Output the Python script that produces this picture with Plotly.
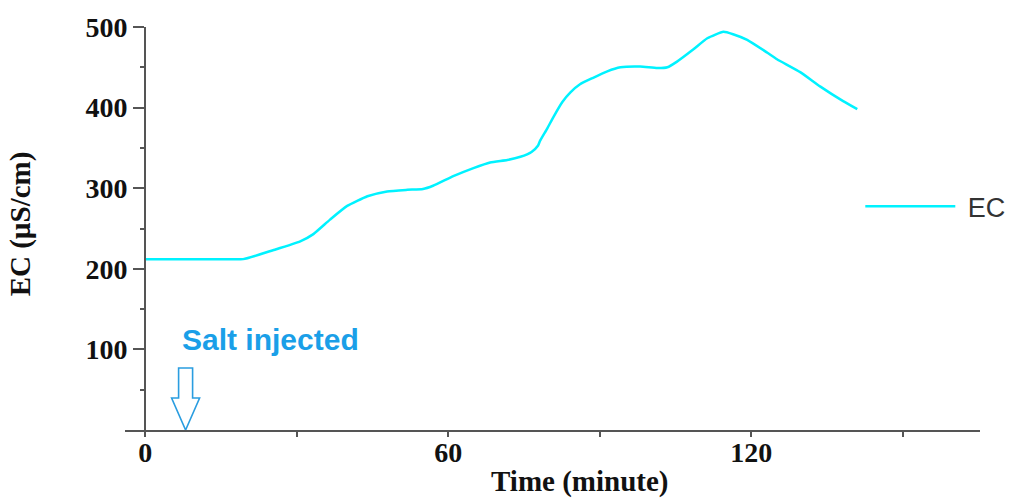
import plotly.graph_objects as go

# ---- data ----
time_min = [0, 5, 10, 15, 19.4, 25.3, 30.7, 33.3, 36.6, 40, 44, 47.9, 51.9, 55, 57, 61, 65,
            68.3, 71.7, 74.3, 76.5, 77.8, 78.2, 79.6, 80.8, 82.6, 84.2, 86.1, 88.7, 91.5,
            94.1, 98, 101.4, 103.4, 105.3, 108.5, 111.3, 114.5, 116.4, 119.2, 123.2, 125.1,
            129.7, 133.7, 138.2, 141]
ec_values = [212, 212, 212, 212, 212, 223, 234, 243, 261, 278, 290, 296, 298, 299, 303, 315,
             325, 332, 335, 339, 345, 353, 359, 374, 388, 407, 419, 429, 437, 445, 450, 451,
             449, 450, 457, 472, 486, 494, 491, 484, 468, 460, 444, 426, 408, 398]
x_tick_vals = [0, 30, 60, 90, 120, 150]
x_tick_text = ["0", "", "60", "", "120", ""]
y_tick_vals = [100, 200, 300, 400, 500]
y_minor_vals = [50, 150, 250, 350, 450]
injection_time = 8
injection_label = "Salt injected"

AXIS = "#555555"
SERIF = "Liberation Serif"

fig = go.Figure()
fig.add_trace(go.Scatter(
    x=time_min, y=ec_values, mode="lines", name=" EC",
    line=dict(color="#00f2ff", width=2.5, shape="spline", smoothing=0.5),
))

fig.update_layout(
    width=1026, height=500,
    margin=dict(l=125, r=46, t=22, b=70),
    paper_bgcolor="white", plot_bgcolor="white",
    showlegend=True,
    legend=dict(x=0.86, y=0.554, xanchor="left", yanchor="middle",
                bgcolor="rgba(0,0,0,0)", itemwidth=90,
                font=dict(family="Liberation Sans", size=27, color="#333333")),
    xaxis=dict(range=[-4, 165.3], showgrid=False, zeroline=False,
               showline=True, linecolor=AXIS, linewidth=2,
               ticks="outside", ticklen=5, tickwidth=2, tickcolor=AXIS,
               tickvals=x_tick_vals, ticktext=x_tick_text, ticklabelstandoff=-9,
               tickfont=dict(family=SERIF, size=28, color="#111111", weight="bold")),
    yaxis=dict(range=[0, 500], showgrid=False, zeroline=False,
               anchor="free", position=20 / 855,
               showline=True, linecolor=AXIS, linewidth=2,
               ticks="outside", ticklen=11, tickwidth=2, tickcolor=AXIS,
               tickvals=y_tick_vals,
               minor=dict(tickvals=y_minor_vals, ticks="outside", ticklen=4,
                          tickwidth=2, tickcolor=AXIS),
               tickfont=dict(family=SERIF, size=28, color="#111111", weight="bold")),
)

# axis titles
fig.add_annotation(text="Time (minute)", xref="paper", yref="paper",
                   x=0.531, y=-0.128, xanchor="center", yanchor="middle", showarrow=False,
                   font=dict(family=SERIF, size=29, color="#111111", weight="bold"))
fig.add_annotation(text="EC (µS/cm)", xref="paper", yref="paper", textangle=-90,
                   x=-0.122, y=0.512, xanchor="center", yanchor="middle", showarrow=False,
                   font=dict(family=SERIF, size=29, color="#111111", weight="bold"))

# injection marker
fig.add_annotation(text=injection_label, xref="x", yref="y",
                   x=injection_time - 1.2, y=112.7, xanchor="left", yanchor="middle",
                   showarrow=False,
                   font=dict(family="Liberation Sans", size=30, color="#1a9fe8", weight="bold"))
fig.add_shape(type="path", xref="x", yref="y",
              xsizemode="pixel", ysizemode="pixel",
              xanchor=injection_time, yanchor=0,
              path="M0,0 L-14,32 L-7,32 L-7,62 L7,62 L7,32 L14,32 Z",
              line=dict(color="#2a9de0", width=1.6), fillcolor="rgba(0,0,0,0)")

fig.write_html("out.html")
